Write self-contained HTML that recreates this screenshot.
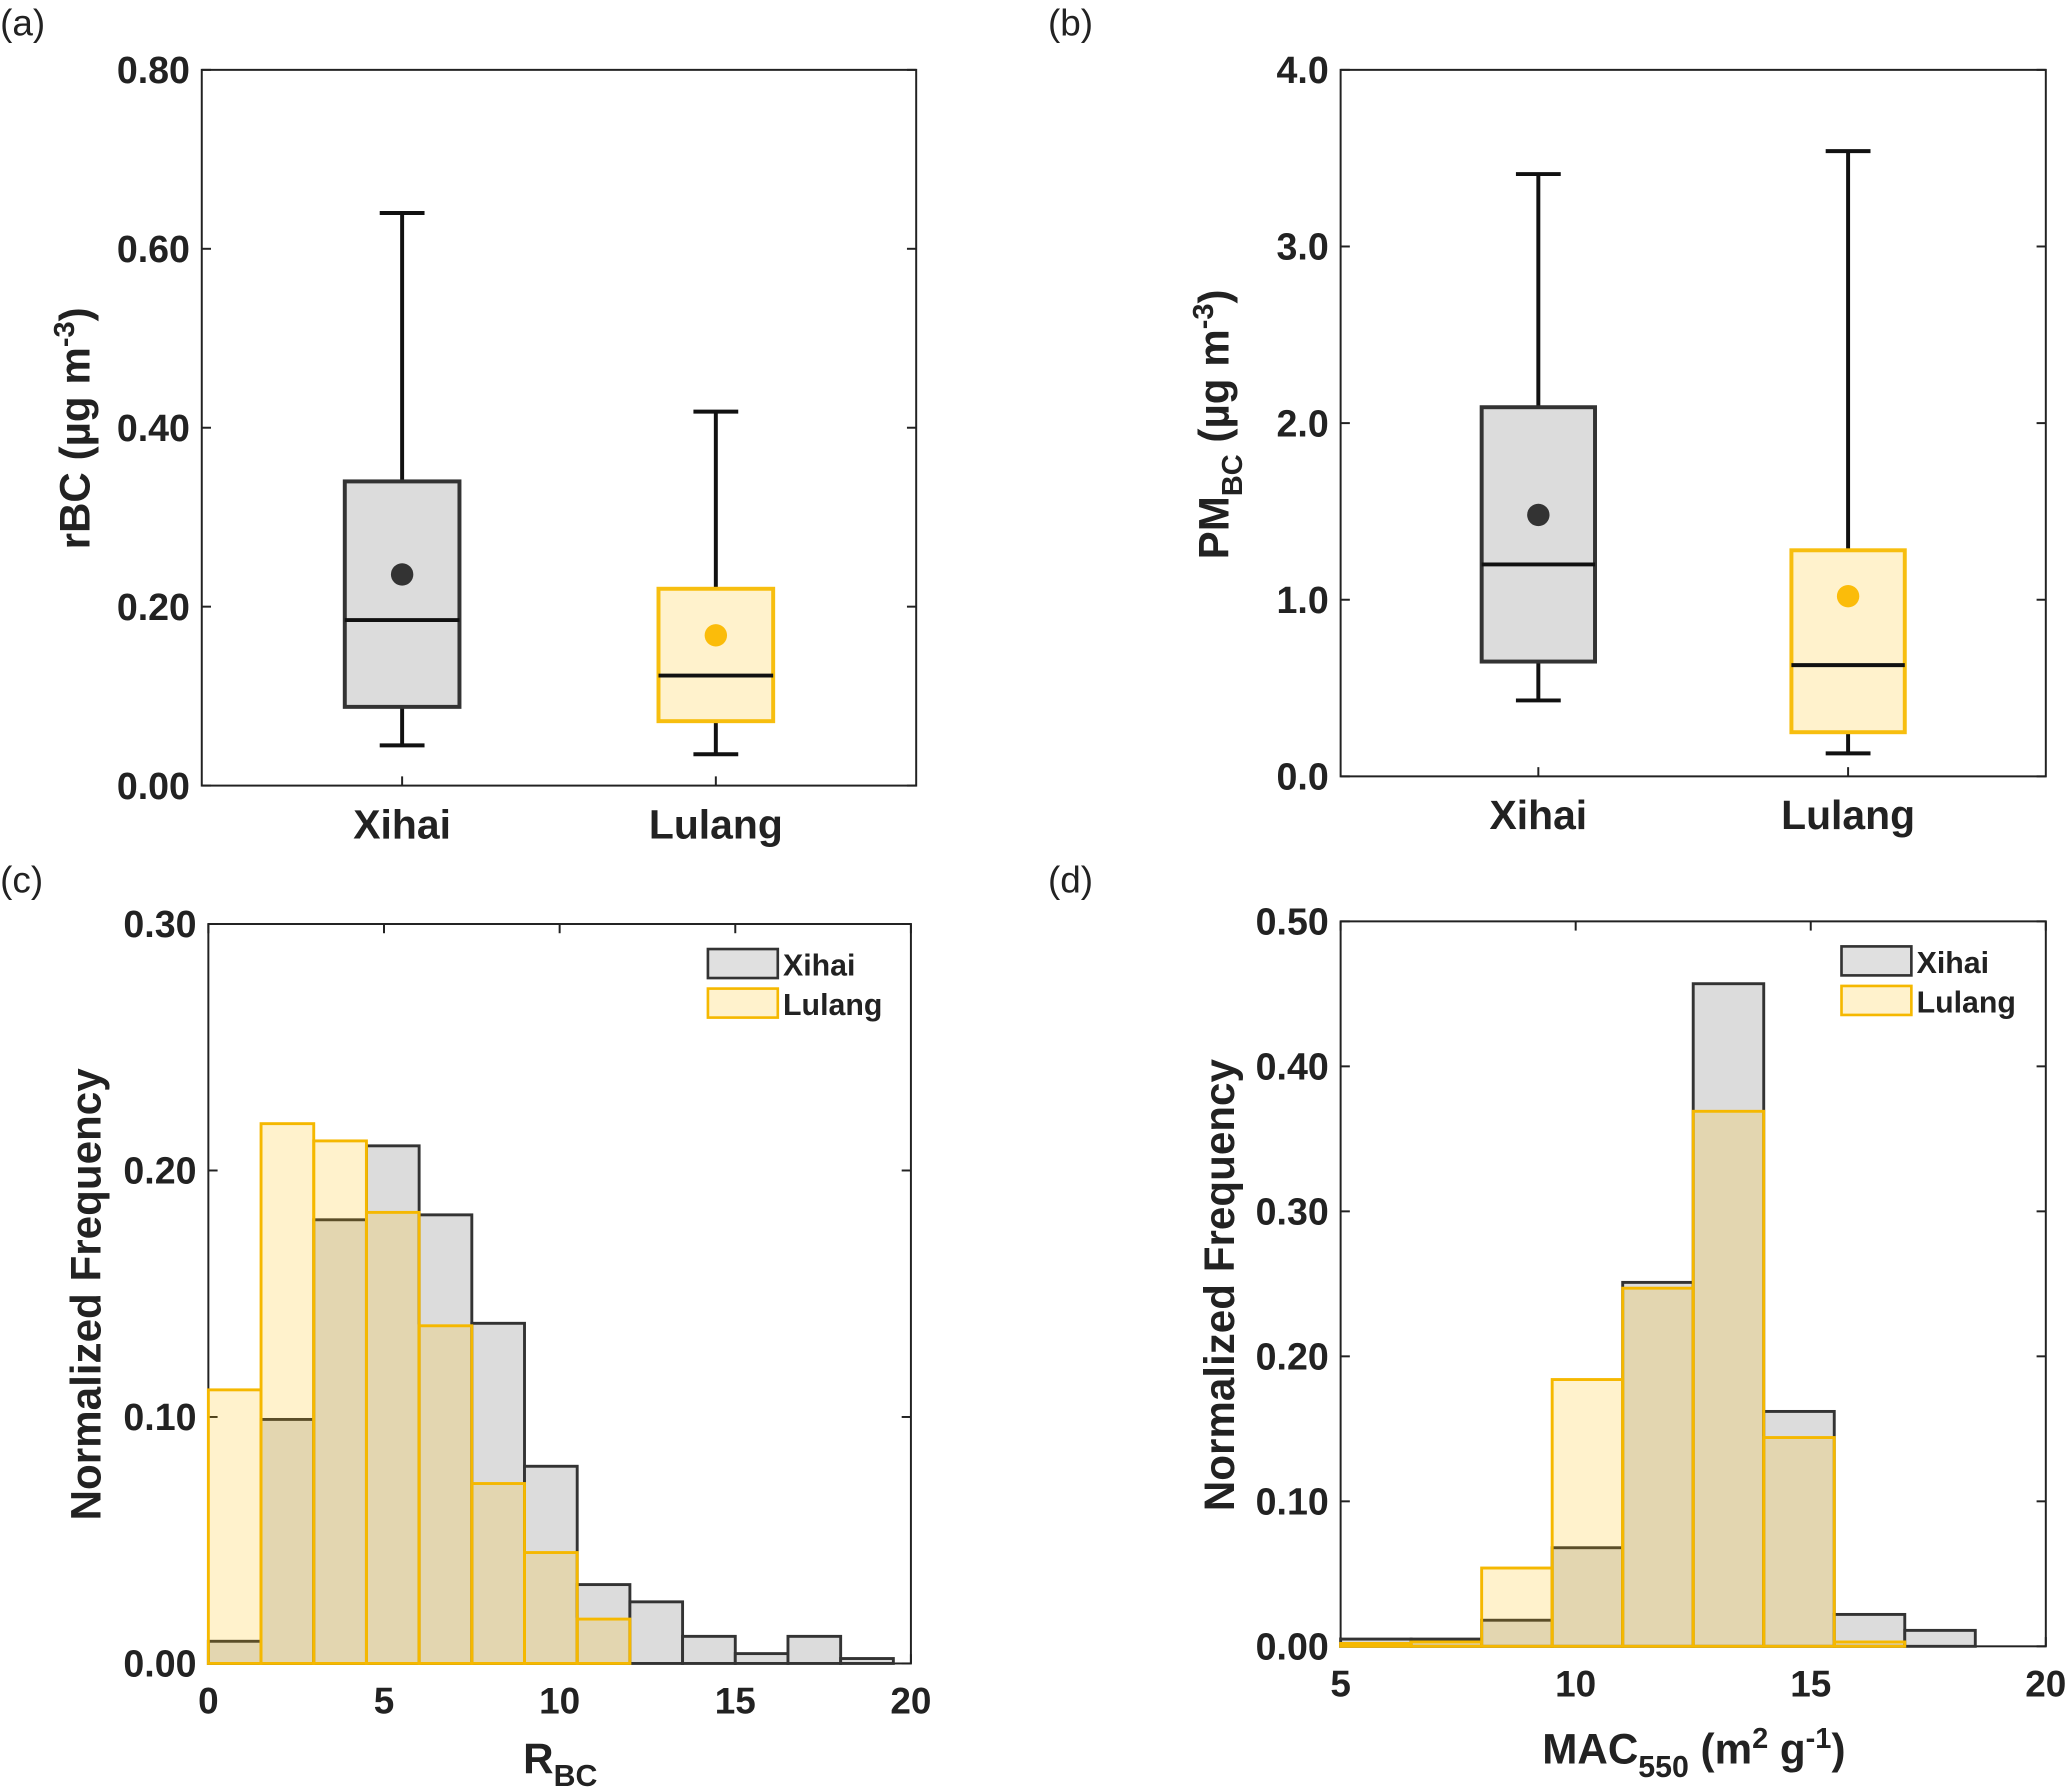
<!DOCTYPE html>
<html><head><meta charset="utf-8"><style>
html,body{margin:0;padding:0;background:#fff}
svg{display:block}
text{font-family:"Liberation Sans",Arial,sans-serif}
</style></head><body>
<svg id="fig" width="2067" height="1790" viewBox="0 0 1568 1358" xmlns="http://www.w3.org/2000/svg"></svg>
<script>
const boxSites = ["Xihai","Lulang"];
const rbcStats = [[0.045,0.088,0.185,0.34,0.64,0.236],[0.035,0.072,0.123,0.22,0.418,0.168]];
const pmStats = [[0.43,0.65,1.2,2.09,3.41,1.48],[0.13,0.25,0.63,1.28,3.54,1.02]];
const rbcTicks = ["0.00","0.20","0.40","0.60","0.80"];
const pmTicks = ["0.0","1.0","2.0","3.0","4.0"];
const rbcEdgeStart = 0, rbcBinW = 1.5;
const rbcXihai = [0.009,0.099,0.180,0.210,0.182,0.138,0.080,0.032,0.025,0.011,0.004,0.011,0.002];
const rbcLulang = [0.111,0.219,0.212,0.183,0.137,0.073,0.045,0.018,0,0,0,0,0];
const macEdgeStart = 5, macBinW = 1.5;
const macXihai = [0.005,0.005,0.018,0.068,0.251,0.457,0.162,0.022,0.011,0];
const macLulang = [0.002,0.003,0.054,0.184,0.247,0.369,0.144,0.003,0,0];
const rbcYTicks = ["0.00","0.10","0.20","0.30"];
const macYTicks = ["0.00","0.10","0.20","0.30","0.40","0.50"];
const rbcXTicks = [0,5,10,15,20];
const macXTicks = [5,10,15,20];

const NS="http://www.w3.org/2000/svg", svg=document.getElementById('fig');
function el(tag,attrs,parent,txt){const e=document.createElementNS(NS,tag);for(const k in attrs)e.setAttribute(k,attrs[k]);if(txt!==undefined)e.textContent=txt;(parent||svg).appendChild(e);return e;}
function scale(d0,d1,r0,r1){return v=>r0+(v-d0)/(d1-d0)*(r1-r0);}
const GRAYF="#dcdcdc",GRAYE="#333333",YF="rgba(255,192,0,0.2)",YE="#f5b800";

function frame(x0,x1,y0,y1,name){
  const r=el('rect',{x:x0,y:y0,width:x1-x0,height:y1-y0,fill:'none',stroke:'#222','stroke-width':1.5});
  
  
}
function yTicks(labels,max,x0,x1,y0,y1,name){
  const ys=scale(0,max,y1,y0);
  labels.forEach((l,i)=>{const v=max*i/(labels.length-1),y=ys(v);
    el('line',{x1:x0,x2:x0+7,y1:y,y2:y,stroke:'#222','stroke-width':1.5});
    el('line',{x1:x1,x2:x1-7,y1:y,y2:y,stroke:'#222','stroke-width':1.5});
    const t=el('text',{x:x0-9,y:y+10,'text-anchor':'end','font-size':28.5,'font-weight':'bold',fill:'#222'},svg,l);
    
    
  });
  return ys;
}
function panelLabel(x,y,s){const t=el('text',{x:x,y:y,'font-size':28,fill:'#222'},svg,s);
  
  }

function boxPanel(stats,ticks,max,x0,x1,y0,y1,cx,hw,name){
  frame(x0,x1,y0,y1,name);
  const ys=yTicks(ticks,max,x0,x1,y0,y1,name);
  stats.forEach((s,i)=>{
    const c=cx[i],fill=i?'#fff2cc':GRAYF,edge=i?'#f7be0f':GRAYE,dot=i?'#fbbc0a':'#333';
    const g=el('g',{});
    
    
    el('line',{x1:c,x2:c,y1:ys(s[0]),y2:ys(s[4]),stroke:'#111','stroke-width':3},g);
    el('line',{x1:c-17,x2:c+17,y1:ys(s[0]),y2:ys(s[0]),stroke:'#111','stroke-width':3},g);
    el('line',{x1:c-17,x2:c+17,y1:ys(s[4]),y2:ys(s[4]),stroke:'#111','stroke-width':3},g);
    el('rect',{x:c-hw,y:ys(s[3]),width:2*hw,height:ys(s[1])-ys(s[3]),fill:fill,stroke:edge,'stroke-width':3},g);
    el('line',{x1:c-hw,x2:c+hw,y1:ys(s[2]),y2:ys(s[2]),stroke:'#111','stroke-width':3},g);
    el('circle',{cx:c,cy:ys(s[5]),r:8.5,fill:dot},g);
    el('line',{x1:c,x2:c,y1:y1,y2:y1-7,stroke:'#222','stroke-width':1.5});
    const t=el('text',{x:c,y:y1+40,'text-anchor':'middle','font-size':31,'font-weight':'bold',fill:'#222'},svg,boxSites[i]);
    
    
  });
}
function histPanel(xs0,w,xsData,luData,ymax,yt,xt,xmin,xmax,x0,x1,y0,y1,name){
  frame(x0,x1,y0,y1,name);
  const ys=yTicks(yt,ymax,x0,x1,y0,y1,name), xs=scale(xmin,xmax,x0,x1);
  xt.forEach(v=>{const x=xs(v);
    el('line',{x1:x,x2:x,y1:y1,y2:y1-7,stroke:'#222','stroke-width':1.5});
    el('line',{x1:x,x2:x,y1:y0,y2:y0+7,stroke:'#222','stroke-width':1.5});
    const t=el('text',{x:x,y:y1+38,'text-anchor':'middle','font-size':28,'font-weight':'bold',fill:'#222'},svg,String(v));
    
    
  });
  [[xsData,GRAYF,GRAYE,'xihai'],[luData,YF,YE,'lulang']].forEach(([arr,f,e,n])=>{
    arr.forEach((v,i)=>{const a=xs(xs0+i*w),b=xs(xs0+(i+1)*w);
      const r=el('rect',{x:a,y:ys(v),width:b-a,height:ys(0)-ys(v),fill:f,stroke:e,'stroke-width':2.2});
      
      
    });
  });
}
function legend(x,y){
  [['Xihai','#e0e0e0',GRAYE],['Lulang','#fff2cc',YE]].forEach(([n,f,e],i)=>{
    const g=el('g',{});
    
    
    el('rect',{x:x,y:y+i*30,width:53,height:22,fill:f,stroke:e,'stroke-width':2},g);
    el('text',{x:x+57,y:y+i*30+20,'font-size':23,'font-weight':'bold',fill:'#222'},g,n);
  });
}
function ytitle(x,y,html,name){const t=el('text',{x:0,y:0,transform:`translate(${x},${y}) rotate(-90)`,'text-anchor':'middle','font-size':32,'font-weight':'bold',fill:'#222'});
  t.innerHTML=html;
  
  }

panelLabel(0,27,'(a)');panelLabel(795,27,'(b)');panelLabel(0,677,'(c)');panelLabel(795,677,'(d)');
boxPanel(rbcStats,rbcTicks,0.8,153,695,53,596,[305,543],43.5,'panel-a');
boxPanel(pmStats,pmTicks,4,1017,1552,53,589,[1167,1402],43,'panel-b');
histPanel(rbcEdgeStart,rbcBinW,rbcXihai,rbcLulang,0.3,rbcYTicks,rbcXTicks,0,20,158,691,701,1262,'panel-c');
histPanel(macEdgeStart,macBinW,macXihai,macLulang,0.5,macYTicks,macXTicks,5,20,1017,1552,699,1249,'panel-d');
legend(537,720);legend(1397,718);
ytitle(68,325,'rBC (µg m<tspan dy="-12" font-size="22">-3</tspan><tspan dy="12">)</tspan>','y-axis-title-a');
ytitle(932,322,'PM<tspan dy="10" font-size="22">BC</tspan><tspan dy="-10"> (µg m</tspan><tspan dy="-12" font-size="22">-3</tspan><tspan dy="12">)</tspan>','y-axis-title-b');
ytitle(76,982,'Normalized Frequency','y-axis-title-c');
ytitle(936,975,'Normalized Frequency','y-axis-title-d');
let t=el('text',{x:425,y:1345,'text-anchor':'middle','font-size':32,'font-weight':'bold',fill:'#222'});
t.innerHTML='R<tspan dy="10" font-size="23">BC</tspan>';


t=el('text',{x:1285,y:1338,'text-anchor':'middle','font-size':32,'font-weight':'bold',fill:'#222'});
t.innerHTML='MAC<tspan dy="10" font-size="23">550</tspan><tspan dy="-10"> (m</tspan><tspan dy="-12" font-size="22">2</tspan><tspan dy="12"> g</tspan><tspan dy="-12" font-size="22">-1</tspan><tspan dy="12">)</tspan>';


</script>
</body></html>
